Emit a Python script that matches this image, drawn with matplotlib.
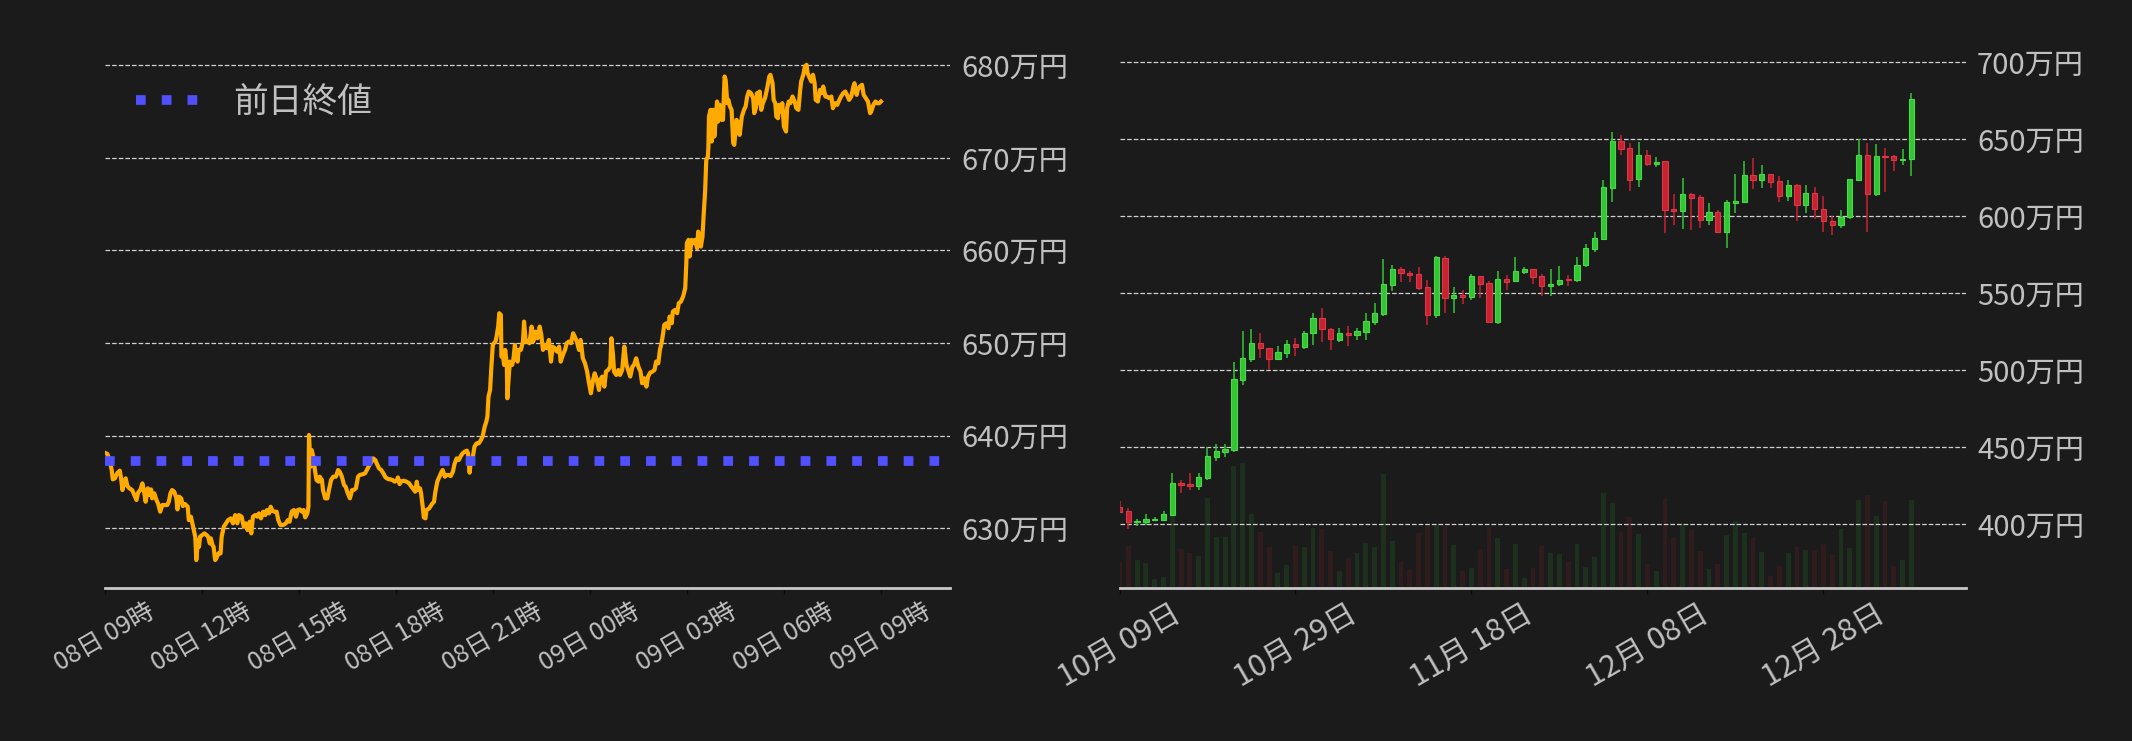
import numpy as np
import pandas as pd
import matplotlib
matplotlib.use("Agg")
import matplotlib.pyplot as plt
import matplotlib.dates as mdates
from matplotlib.ticker import FuncFormatter

BG = "#1b1b1b"
TXT = "#c0c0c0"
GREEN = "#33c633"
RED = "#c8222f"

# ---- intraday (left panel): minutes after 08日 09時, price in 万円
intraday_start = pd.Timestamp("2024-01-08 09:00")
minutes = [
    0, 5, 9, 13, 15, 19, 23, 28, 30, 33, 36, 39, 42, 46, 51, 55, 59, 62, 66, 70,
    73, 76, 80, 82, 86, 88, 92, 96, 99, 103, 107, 111, 116, 119, 122, 125, 129, 133, 135, 138,
    142, 145, 149, 154, 156, 160, 164, 168, 170, 173, 175, 177, 181, 185, 189, 192, 195, 197, 200, 202,
    205, 207, 211, 215, 217, 221, 225, 229, 234, 238, 242, 246, 249, 254, 258, 262, 265, 269, 272, 275,
    279, 283, 286, 290, 294, 298, 301, 305, 308, 311, 315, 319, 322, 326, 331, 336, 340, 343, 347, 351,
    355, 358, 362, 366, 369, 372, 376, 378, 379, 382, 384, 387, 390, 393, 397, 399, 403, 405, 409, 413,
    416, 420, 424, 429, 433, 436, 440, 444, 447, 451, 455, 459, 462, 466, 470, 473, 478, 483, 488, 491,
    495, 498, 502, 506, 509, 513, 517, 521, 526, 530, 534, 538, 542, 544, 547, 550, 555, 560, 565, 569,
    573, 576, 579, 581, 585, 587, 590, 592, 595, 597, 602, 607, 611, 613, 617, 621, 625, 627, 631, 634,
    638, 642, 646, 649, 653, 657, 660, 664, 668, 672, 674, 677, 679, 683, 686, 690, 694, 698, 701, 705,
    708, 710, 712, 715, 717, 720, 722, 725, 727, 730, 732, 735, 736, 739, 741, 743, 746, 747, 750, 752,
    756, 758, 761, 763, 766, 768, 772, 776, 778, 781, 784, 788, 792, 795, 799, 803, 807, 810, 813, 817,
    820, 824, 828, 831, 835, 839, 843, 846, 850, 854, 857, 861, 865, 869, 872, 876, 880, 883, 887, 891,
    895, 898, 902, 906, 909, 913, 917, 919, 923, 927, 930, 934, 938, 940, 943, 945, 949, 953, 956, 960,
    964, 968, 971, 975, 979, 982, 986, 990, 994, 997, 1001, 1005, 1008, 1012, 1016, 1020, 1023, 1027, 1030, 1033,
    1036, 1038, 1042, 1046, 1048, 1052, 1054, 1058, 1062, 1065, 1069, 1073, 1077, 1079, 1080, 1083, 1085, 1089, 1091, 1095,
    1099, 1101, 1104, 1106, 1109, 1111, 1114, 1116, 1119, 1120, 1121, 1124, 1126, 1129, 1131, 1134, 1136, 1138, 1141, 1145,
    1147, 1150, 1152, 1155, 1157, 1160, 1163, 1166, 1168, 1172, 1174, 1178, 1182, 1186, 1189, 1192, 1195, 1199, 1203, 1205,
    1208, 1210, 1213, 1215, 1218, 1221, 1225, 1229, 1233, 1235, 1239, 1241, 1244, 1246, 1249, 1251, 1255, 1257, 1260, 1264,
    1266, 1269, 1272, 1276, 1280, 1283, 1287, 1290, 1292, 1296, 1299, 1302, 1304, 1308, 1311, 1314, 1317, 1319, 1323, 1327,
    1330, 1333, 1337, 1340, 1344, 1348, 1351, 1355, 1359, 1363, 1366, 1370, 1374, 1377, 1381, 1385, 1389, 1391, 1395, 1397,
    1401, 1405, 1408, 1412, 1416, 1420, 1422, 1426, 1430, 1433, 1437, 1440,
]
prices = [
    638.17, 638.03, 637.38, 636.30, 635.29, 635.40, 635.94, 636.23, 635.58, 634.14,
    635.04, 635.40, 634.57, 634.32, 634.14, 633.60, 633.06, 633.85, 634.14, 634.86,
    633.96, 632.88, 634.32, 633.60, 634.21, 633.24, 633.78, 633.06, 632.70, 631.80,
    632.52, 632.52, 632.52, 632.88, 633.78, 634.14, 633.96, 633.24, 632.05, 633.42,
    633.24, 632.41, 632.63, 632.34, 630.90, 631.26, 630.18, 629.10, 626.58, 628.74,
    628.02, 629.10, 629.28, 629.46, 629.28, 629.10, 628.38, 628.92, 628.20, 628.02,
    626.58, 626.76, 627.30, 627.30, 629.10, 630.18, 630.54, 630.90, 631.08, 630.54,
    631.44, 630.54, 631.44, 631.26, 630.18, 630.54, 629.82, 630.72, 629.46, 631.26,
    631.44, 631.26, 631.62, 631.08, 631.80, 631.44, 631.98, 631.62, 632.34, 631.91,
    631.80, 631.80, 630.90, 630.36, 630.36, 630.54, 630.90, 630.72, 631.80, 631.98,
    631.26, 631.98, 632.05, 631.80, 631.98, 631.19, 631.62, 632.34, 640.08, 636.66,
    638.46, 637.74, 636.30, 635.22, 635.04, 635.58, 635.22, 634.14, 633.24, 633.24,
    634.14, 635.22, 635.58, 635.58, 636.30, 636.12, 635.58, 634.68, 634.50, 633.78,
    633.24, 634.14, 634.14, 634.32, 635.58, 635.76, 635.83, 635.94, 636.48, 636.84,
    637.20, 637.56, 637.38, 636.84, 636.48, 636.30, 635.94, 635.50, 635.32, 635.29,
    635.22, 635.04, 635.22, 635.50, 634.78, 635.07, 635.14, 635.04, 634.86, 634.50,
    634.21, 633.96, 635.04, 634.14, 634.32, 633.78, 632.34, 631.19, 631.08, 631.98,
    632.16, 632.62, 632.88, 633.78, 635.04, 635.58, 636.12, 636.30, 635.58, 635.76,
    635.76, 635.65, 636.12, 636.95, 637.56, 637.38, 637.74, 638.10, 638.28, 638.39,
    638.10, 636.01, 637.09, 637.74, 638.82, 639.18, 639.18, 639.54, 639.90, 640.98,
    641.52, 642.06, 644.22, 644.94, 647.10, 649.80, 649.98, 650.16, 650.70, 651.78,
    653.22, 653.04, 648.54, 648.54, 647.64, 649.26, 647.64, 644.04, 646.74, 648.00,
    647.64, 648.18, 649.80, 648.72, 648.00, 649.26, 649.26, 650.16, 652.32, 650.16,
    650.16, 649.98, 651.78, 650.16, 651.24, 650.52, 651.78, 650.88, 649.26, 649.80,
    649.44, 650.34, 648.00, 649.62, 649.44, 649.08, 649.62, 648.00, 648.72, 649.26,
    649.98, 650.16, 649.98, 651.06, 650.70, 650.16, 649.26, 650.34, 648.36, 647.82,
    646.92, 645.84, 644.58, 646.02, 646.74, 646.02, 644.94, 646.02, 646.38, 645.30,
    646.92, 647.10, 647.46, 650.52, 648.72, 646.92, 646.56, 647.10, 646.56, 647.10,
    649.62, 647.64, 647.10, 646.38, 647.46, 647.64, 648.36, 647.46, 646.92, 645.66,
    646.20, 645.30, 646.38, 646.81, 646.92, 647.10, 648.00, 647.82, 649.26, 649.98,
    651.06, 651.96, 652.14, 651.60, 652.86, 652.14, 653.40, 653.58, 653.22, 654.30,
    654.48, 655.02, 655.92, 658.62, 660.78, 661.14, 659.34, 661.14, 660.78, 661.14,
    660.24, 662.03, 661.49, 660.41, 661.49, 663.65, 666.53, 669.77, 670.13, 671.21,
    674.45, 675.17, 671.75, 675.17, 672.29, 674.45, 676.07, 673.91, 675.71, 674.09,
    674.09, 678.77, 678.41, 675.89, 676.25, 675.53, 675.17, 671.57, 671.39, 674.09,
    673.91, 672.47, 674.45, 675.17, 675.53, 676.61, 677.15, 676.97, 676.43, 674.81,
    675.35, 676.97, 675.89, 677.15, 675.17, 675.89, 676.43, 677.51, 678.77, 678.95,
    678.05, 676.25, 675.89, 674.45, 674.27, 675.71, 674.99, 675.89, 673.37, 672.83,
    675.35, 676.07, 675.89, 676.61, 676.07, 675.35, 675.17, 677.15, 678.23, 678.95,
    679.85, 680.03, 679.13, 678.59, 678.23, 678.95, 678.05, 676.25, 676.07, 677.33,
    676.97, 677.69, 676.61, 676.61, 676.43, 676.61, 675.35, 675.89, 675.71, 676.25,
    676.61, 676.97, 677.15, 676.79, 676.25, 676.61, 677.69, 678.05, 676.79, 677.33,
    677.69, 677.87, 676.79, 676.43, 676.07, 674.81, 674.99, 675.71, 676.07, 675.89,
    675.89, 676.07,
]
prev_close = 637.3

# ---- daily candles (right panel), 万円
daily_start = pd.Timestamp("2023-10-09")
opens = [
    411.2, 408.6, 401.5, 401.5, 403.0, 403.0, 406.3, 426.8, 426.1, 425.0,
    430.2, 443.8, 447.0, 448.3, 493.4, 507.2, 518.0, 514.8, 507.2, 511.1,
    517.4, 515.0, 524.1, 534.2, 527.1, 520.0, 524.3, 523.2, 525.2, 531.7,
    536.6, 555.6, 565.8, 563.4, 562.5, 554.1, 536.2, 572.9, 547.2, 548.9,
    547.8, 561.0, 556.7, 531.7, 559.1, 557.8, 563.9, 565.5, 561.0, 555.0,
    555.8, 559.0, 558.4, 568.1, 579.1, 585.5, 618.6, 648.8, 644.2, 624.4,
    639.7, 634.1, 635.8, 604.7, 603.7, 614.5, 612.5, 597.8, 602.8, 590.1,
    608.8, 609.5, 626.8, 623.9, 627.6, 623.0, 613.5, 620.4, 607.7, 615.3,
    604.9, 597.1, 594.1, 599.3, 623.9, 639.9, 614.8, 639.2, 639.2, 636.6,
    637.3,
]
highs = [
    415.1, 410.6, 403.7, 406.7, 405.0, 408.6, 433.2, 428.7, 433.2, 433.2,
    450.1, 452.0, 452.0, 505.7, 525.8, 527.1, 524.5, 514.8, 516.1, 520.0,
    521.3, 525.8, 537.5, 540.7, 527.8, 527.5, 528.9, 527.5, 537.3, 543.7,
    572.2, 568.3, 567.0, 564.5, 567.0, 558.6, 574.2, 574.2, 554.1, 552.2,
    562.5, 561.0, 558.0, 564.5, 561.9, 573.5, 567.0, 565.5, 562.5, 565.8,
    567.9, 562.0, 573.7, 582.1, 589.9, 623.5, 654.6, 652.7, 647.5, 648.1,
    642.9, 638.4, 635.8, 614.5, 624.8, 615.1, 613.8, 608.6, 604.1, 610.6,
    627.4, 635.8, 637.8, 633.4, 627.6, 626.3, 623.7, 621.1, 620.4, 619.1,
    613.3, 600.4, 604.2, 624.3, 650.0, 647.6, 647.0, 644.4, 639.9, 643.7,
    680.0,
]
lows = [
    407.6, 397.0, 398.9, 399.6, 402.2, 402.4, 405.4, 420.3, 422.2, 422.2,
    428.7, 441.2, 443.6, 447.0, 490.2, 505.1, 507.7, 499.9, 507.2, 508.3,
    509.6, 513.7, 516.7, 518.7, 513.5, 518.2, 515.5, 520.0, 520.0, 529.5,
    535.3, 551.7, 557.3, 557.3, 551.9, 529.5, 534.0, 537.3, 537.3, 543.1,
    545.7, 547.0, 531.7, 530.1, 552.2, 557.3, 562.7, 556.0, 548.5, 548.3,
    554.5, 554.5, 557.1, 567.4, 577.1, 585.5, 609.5, 639.9, 616.6, 619.2,
    632.8, 632.2, 589.2, 594.4, 592.0, 591.2, 592.7, 594.6, 589.4, 579.7,
    602.2, 608.8, 617.9, 618.7, 618.7, 609.6, 610.3, 596.7, 601.9, 598.0,
    589.6, 587.6, 592.2, 598.0, 623.9, 589.6, 613.5, 616.1, 629.5, 633.4,
    626.3,
]
closes = [
    408.0, 401.5, 402.2, 403.5, 403.7, 406.7, 426.8, 425.5, 424.8, 430.6,
    444.2, 447.5, 448.8, 494.1, 507.7, 518.0, 514.4, 507.2, 511.6, 517.4,
    515.0, 524.5, 534.2, 526.7, 520.2, 524.3, 523.2, 525.6, 532.1, 537.3,
    556.0, 565.8, 563.4, 562.1, 553.5, 536.2, 573.5, 547.2, 548.7, 547.8,
    561.0, 556.3, 531.7, 559.1, 557.6, 564.2, 565.5, 560.8, 555.0, 556.0,
    558.8, 558.4, 568.5, 579.5, 586.0, 619.0, 648.8, 643.8, 623.7, 639.7,
    634.1, 635.2, 604.1, 603.7, 614.5, 612.1, 597.8, 602.8, 590.1, 609.3,
    609.9, 626.8, 623.7, 627.6, 622.6, 613.5, 620.4, 607.7, 615.3, 604.5,
    596.7, 594.1, 599.9, 624.3, 639.9, 614.8, 639.2, 638.6, 636.6, 637.5,
    676.1,
]
volumes = [
    25.7, 41.7, 27.7, 24.7, 8.7, 10.7, 72.7, 38.7, 34.7, 31.7,
    89.7, 50.7, 50.7, 121.7, 124.7, 73.7, 55.7, 40.7, 14.7, 22.7,
    41.7, 40.7, 59.7, 58.7, 36.7, 16.7, 29.7, 34.7, 44.7, 40.7,
    113.7, 46.7, 25.7, 17.7, 54.7, 61.7, 62.7, 61.7, 42.7, 16.7,
    19.7, 38.7, 60.7, 49.7, 18.7, 43.7, 9.7, 19.7, 41.7, 34.7,
    33.7, 25.7, 43.7, 20.7, 30.7, 94.7, 84.7, 55.7, 70.7, 53.7,
    23.7, 16.7, 88.7, 49.7, 63.7, 57.7, 36.7, 18.7, 23.7, 52.7,
    66.7, 54.7, 49.7, 35.7, 11.7, 21.7, 34.7, 40.7, 37.7, 37.7,
    43.7, 32.7, 58.7, 39.7, 87.7, 92.7, 71.7, 86.7, 21.7, 27.7,
    87.7,
]

plt.rcParams["font.family"] = ["Noto Sans CJK JP", "DejaVu Sans"]

fig = plt.figure(figsize=(21.32, 7.41), dpi=100, facecolor=BG)
ax1 = fig.add_axes([0.0491, 0.2069, 0.3967, 0.739])
ax2 = fig.add_axes([0.5251, 0.2069, 0.397, 0.739])


def style_axis(ax, xlabel_size):
    ax.set_facecolor(BG)
    for side in ["top", "left", "right"]:
        ax.spines[side].set_visible(False)
    ax.spines["bottom"].set_color("#c8c8c8")
    ax.spines["bottom"].set_linewidth(2)
    ax.yaxis.tick_right()
    ax.tick_params(axis="y", length=0, pad=8, labelsize=21, labelcolor=TXT)
    ax.tick_params(axis="x", length=4, width=1, color="#0a0a0a",
                   labelsize=xlabel_size, labelcolor=TXT, labelrotation=30)
    ax.grid(axis="y", color="#d0d0d0", ls="--", lw=0.9)
    ax.set_axisbelow(True)
    ax.yaxis.set_major_formatter(FuncFormatter(lambda v, p: f"{int(round(v))}万円"))


# ---- left: intraday line
times = intraday_start + pd.to_timedelta(minutes, unit="m")
ax1.plot(times, prices, color="#ffaa00", lw=3, zorder=3)
ax1.axhline(prev_close, color="#5050ff", lw=7, ls=(0, (1, 1.65)),
            label="前日終値", zorder=4)
style_axis(ax1, 18)
ax1.set_xlim(intraday_start, intraday_start + pd.Timedelta(minutes=1569))
ax1.set_ylim(623.6, 682.7)
ax1.set_yticks(np.arange(630, 681, 10))
ax1.xaxis.set_major_locator(mdates.HourLocator(byhour=range(0, 24, 3)))
ax1.xaxis.set_major_formatter(mdates.DateFormatter("%d日 %H時"))
leg = ax1.legend(loc="upper left", bbox_to_anchor=(0, 0.975), frameon=False,
                 fontsize=25)
for t in leg.get_texts():
    t.set_color(TXT)

# ---- right: daily candles + volume
dates = pd.date_range(daily_start, periods=len(opens), freq="D")
o = np.array(opens)
h = np.array(highs)
l = np.array(lows)
c = np.array(closes)
up = c >= o
face = np.where(up, GREEN, RED)
edge = np.where(up, "#48d848", "#d83848")

axv = ax2.twinx()
axv.bar(dates, volumes, width=0.55, color=np.where(up, GREEN, RED),
        alpha=0.12, zorder=1)
axv.set_ylim(0, 548)
axv.set_yticks([])
for s in axv.spines.values():
    s.set_visible(False)
ax2.set_zorder(axv.get_zorder() + 1)
ax2.patch.set_visible(False)

ax2.vlines(dates, l, h, colors=face, lw=1.1, zorder=3)
body_low = np.minimum(o, c)
body_h = np.maximum(np.abs(c - o), 0.5)
ax2.bar(dates, body_h, bottom=body_low, width=0.6, color=face,
        edgecolor=edge, linewidth=0.8, zorder=4)

style_axis(ax2, 22)
ax2.set_xlim(daily_start, daily_start + pd.Timedelta(days=96.2))
ax2.set_ylim(358.8, 714.5)
ax2.set_yticks(np.arange(400, 701, 50))
ax2.set_xticks(pd.date_range(daily_start, periods=5, freq="20D"))
ax2.xaxis.set_major_formatter(mdates.DateFormatter("%m月 %d日"))

fig.savefig("out.png", dpi=100, facecolor=BG)
